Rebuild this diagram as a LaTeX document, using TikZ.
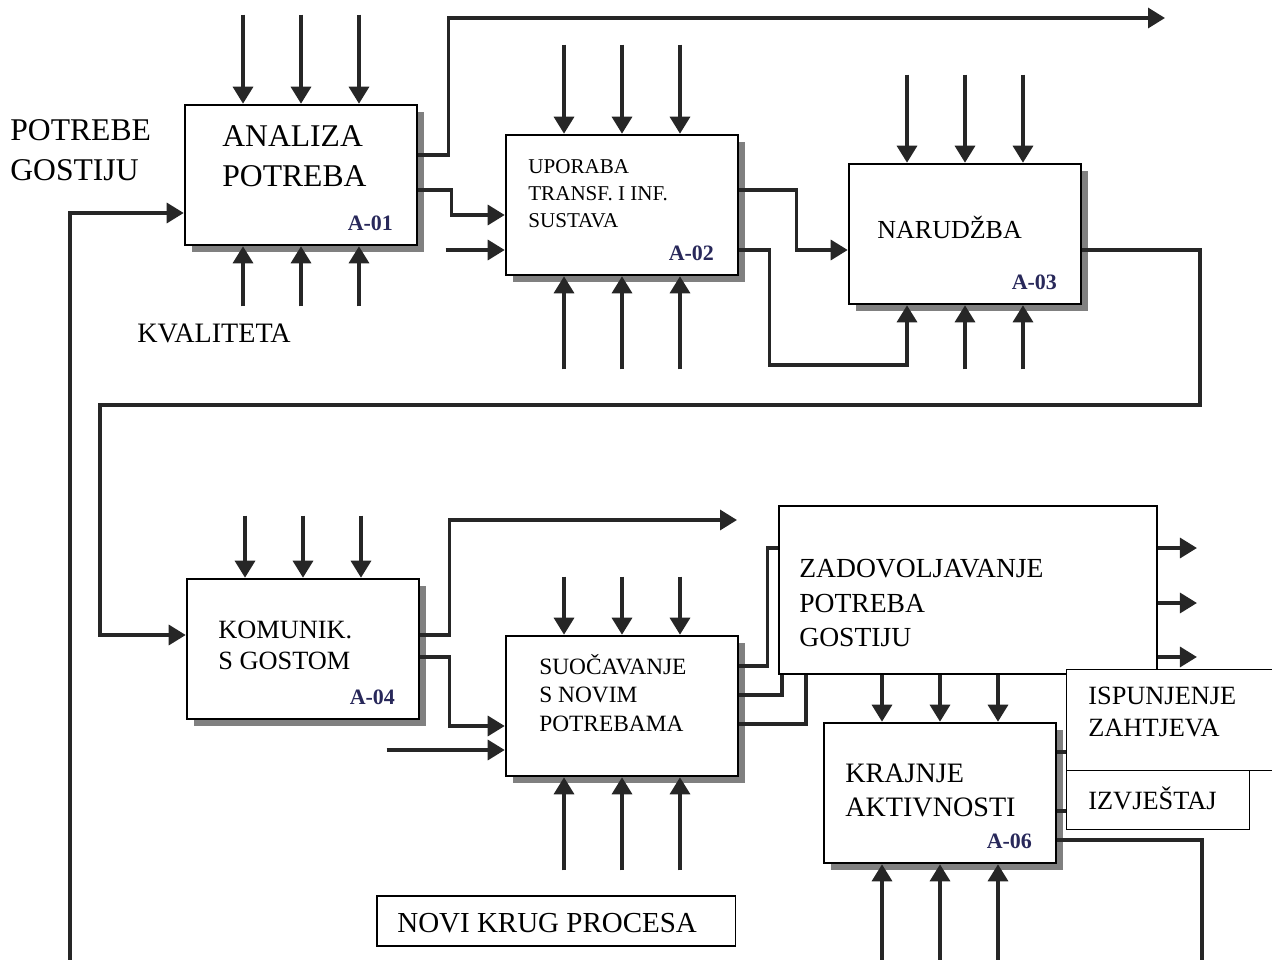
\documentclass[tikz,border=0pt]{standalone}
\usepackage{fontspec}
\setmainfont{Liberation Serif}
\usetikzlibrary{arrows.meta,shadows}

\definecolor{idblue}{RGB}{40,40,90}

\tikzset{
  func/.style={draw, line width=1.5pt, fill=white, minimum width=4.64cm, minimum height=2.8cm,
    drop shadow={shadow xshift=0.14cm, shadow yshift=-0.14cm, fill=black!50, opacity=1}},
  tag/.style={draw, line width=1.1pt, fill=white},
  txt/.style={inner sep=0pt, anchor=west, align=left},
  idlab/.style={inner sep=0pt, anchor=east, text=idblue, font=\fontsize{12.5}{15}\selectfont\bfseries},
  flow/.style={line width=1.9pt, draw=black!85},
  arr/.style={flow, -{Triangle[length=0.34cm,width=0.4cm]}},
}

\begin{document}
\begin{tikzpicture}[x=0.02cm, y=-0.02cm]
  \useasboundingbox (0,0) rectangle (1272,960);
  % boxes
  \node[func] (a01) at (301,175) {};
  \node[func] (a02) at (622,205) {};
  \node[func] (a03) at (965,234) {};
  \node[func] (a04) at (303,649) {};
  \node[func] (a05) at (622,706) {};
  \node[func] (a06) at (940,793) {};
  \node[tag, minimum width=7.56cm, minimum height=3.36cm] (zad) at (968,590) {};
  \node[tag, minimum width=4.3cm, minimum height=2.02cm] (isp) at (1174,720) {};
  \node[tag, minimum width=3.66cm, minimum height=1.18cm] (izv) at (1158,800) {};
  \node[tag, minimum width=7.18cm, minimum height=1cm] (novi) at (556,921) {};

  % texts
  \node[txt, font=\fontsize{18}{22.7}\selectfont] (potrebe) at (10,150) {POTREBE\\GOSTIJU};
  \node[txt, font=\fontsize{16}{19}\selectfont] (kval) at (137,333) {KVALITETA};
  \node[txt, font=\fontsize{18}{23}\selectfont] (t01) at (222,156) {ANALIZA\\POTREBA};
  \node[txt, font=\fontsize{12}{15.4}\selectfont] (t02) at (528,194) {UPORABA\\TRANSF. I INF.\\SUSTAVA};
  \node[txt, font=\fontsize{14.8}{17}\selectfont] (t03) at (877,227) {NARUDŽBA};
  \node[txt, font=\fontsize{15}{17.6}\selectfont] (t04) at (218,645) {KOMUNIK.\\S GOSTOM};
  \node[txt, font=\fontsize{13.3}{16.3}\selectfont] (t05) at (539,693) {SUOČAVANJE\\S NOVIM\\POTREBAMA};
  \node[txt, font=\fontsize{15.7}{19.7}\selectfont] (tzad) at (799,603) {ZADOVOLJAVANJE\\POTREBA\\GOSTIJU};
  \node[txt, font=\fontsize{15}{18}\selectfont] (tisp) at (1088,712) {ISPUNJENJE\\ZAHTJEVA};
  \node[txt, font=\fontsize{16}{19.3}\selectfont] (t06) at (845,790) {KRAJNJE\\AKTIVNOSTI};
  \node[txt, font=\fontsize{15}{17}\selectfont] (tizv) at (1088,798) {IZVJEŠTAJ};
  \node[txt, font=\fontsize{16.5}{19}\selectfont] (tnovi) at (397,923) {NOVI KRUG PROCESA};

  \node[idlab] (id01) at ([xshift=-0.5cm,yshift=0.46cm]a01.south east) {A-01};
  \node[idlab] (id02) at ([xshift=-0.5cm,yshift=0.46cm]a02.south east) {A-02};
  \node[idlab] (id03) at ([xshift=-0.5cm,yshift=0.46cm]a03.south east) {A-03};
  \node[idlab] (id04) at ([xshift=-0.5cm,yshift=0.46cm]a04.south east) {A-04};
  \node[idlab] (id06) at ([xshift=-0.5cm,yshift=0.46cm]a06.south east) {A-06};

  % free ends
  \coordinate (topend) at (1165,18);
  \coordinate (midend) at (737,520);
  \coordinate (rbend) at (1200,405);
  \coordinate (lbend) at (100,405);
  \coordinate (loopstart) at (70,960);
  \coordinate (a06end) at (1202,960);

  % controls and mechanisms
  \foreach \b/\up/\dn in {a01/1.78cm/1.2cm, a02/1.78cm/1.86cm, a05/1.16cm/1.86cm} {
    \foreach \dx in {-1.16cm,0cm,1.16cm} {
      \draw[arr] ([xshift=\dx,yshift=\up]\b.north) -- ([xshift=\dx]\b.north);
      \draw[arr] ([xshift=\dx,yshift=-\dn]\b.south) -- ([xshift=\dx]\b.south);
    }
  }
  \foreach \dx in {-1.16cm,0cm,1.16cm} {
    \draw[arr] ([xshift=\dx,yshift=1.76cm]a03.north) -- ([xshift=\dx]a03.north);
    \draw[arr] ([xshift=\dx,yshift=1.24cm]a04.north) -- ([xshift=\dx]a04.north);
    \draw[arr] ([xshift=\dx]a06.north |- zad.south) -- ([xshift=\dx]a06.north);
    \draw[arr] ([xshift=\dx,yshift=-1.96cm]a06.south) -- ([xshift=\dx]a06.south);
  }
  \foreach \dx in {0cm,1.16cm}
    \draw[arr] ([xshift=\dx,yshift=-1.28cm]a03.south) -- ([xshift=\dx]a03.south);

  % flows
  \draw[arr] (loopstart) |- ([yshift=-0.76cm]a01.west);
  \draw[arr] ([yshift=0.4cm]a01.east) -- ++(0.6cm,0) |- (topend);
  \draw[arr] ([yshift=-0.3cm]a01.east) -- ++(0.66cm,0) |- ([yshift=-0.2cm]a02.west);
  \draw[arr] ([xshift=-1.18cm,yshift=-0.9cm]a02.west) -- ([yshift=-0.9cm]a02.west);
  \draw[arr] ([yshift=0.3cm]a02.east) -- ++(1.14cm,0) |- ([yshift=-0.32cm]a03.west);
  \draw[arr] ([yshift=-0.9cm]a02.east) -- ++(0.6cm,0) -- ++(0,-2.3cm) -| ([xshift=-1.16cm]a03.south);
  \draw[arr] ([yshift=-0.32cm]a03.east) -| (rbend) -- (lbend) |- ([yshift=0.28cm]a04.west);
  \draw[arr] ([yshift=0.28cm]a04.east) -- ++(0.58cm,0) |- (midend);
  \draw[arr] ([yshift=-0.16cm]a04.east) -- ++(0.58cm,0) |- ([yshift=-0.4cm]a05.west);
  \draw[arr] ([xshift=-2.36cm,yshift=-0.88cm]a05.west) -- ([yshift=-0.88cm]a05.west);
  \draw[flow] ([yshift=0.8cm]a05.east) -- ++(0.56cm,0) |- ([yshift=0.84cm]zad.west);
  \draw[flow] ([yshift=0.22cm]a05.east) -| ([xshift=-3.72cm]zad.south);
  \draw[flow] ([yshift=-0.36cm]a05.east) -| ([xshift=-3.24cm]zad.south);
  \foreach \dy in {0.84cm,-0.26cm,-1.34cm}
    \draw[arr] ([yshift=\dy]zad.east) -- ++(0.78cm,0);
  \draw[flow] ([yshift=0.82cm]a06.east) -- ([yshift=0.82cm]a06.east -| isp.west);
  \draw[flow] ([yshift=-0.36cm]a06.east) -- ([yshift=-0.36cm]a06.east -| izv.west);
  \draw[flow] ([yshift=-0.94cm]a06.east) -| (a06end);
\end{tikzpicture}
\end{document}
